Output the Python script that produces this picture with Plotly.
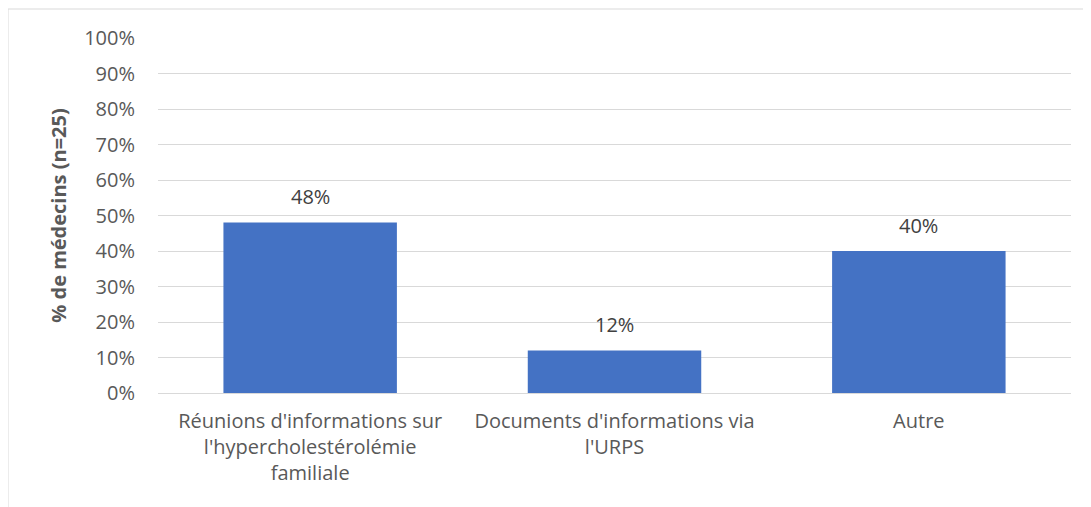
import plotly.graph_objects as go

categories = [
    "Réunions d'informations sur<br>l'hypercholestérolémie<br>familiale",
    "Documents d'informations via<br>l'URPS",
    "Autre",
]
values = [0.48, 0.12, 0.40]
value_labels = ["48%", "12%", "40%"]
y_title = "% de médecins (n=25)"

FONT = "Open Sans, Noto Sans, sans-serif"
GREY = "#595959"

# page body has an 8px margin: plot area in page = x 158-1071, y 38-393
fig = go.Figure(
    go.Bar(
        x=categories,
        y=values,
        marker=dict(color="#4472C4", line=dict(width=0)),
        width=0.57,
        hoverinfo="x+y",
    )
)

for c, v, t in zip(categories, values, value_labels):
    fig.add_annotation(
        x=c, y=v, text=t, showarrow=False,
        yanchor="middle", yshift=26,
        font=dict(family=FONT, size=20, color="#404040"),
    )

fig.update_layout(
    width=1091,
    height=507,
    margin=dict(l=150, r=28, t=30, b=122),
    paper_bgcolor="white",
    plot_bgcolor="white",
    showlegend=False,
    font=dict(family=FONT, size=20, color=GREY),
    xaxis=dict(
        showgrid=False,
        showline=True,
        linecolor="#D9D9D9",
        linewidth=1,
        ticks="",
        tickfont=dict(family=FONT, size=20, color=GREY),
        ticklabelstandoff=10,
    ),
    yaxis=dict(
        range=[0, 1],
        dtick=0.1,
        tickformat=".0%",
        showgrid=True,
        gridcolor="#D9D9D9",
        gridwidth=1,
        zeroline=False,
        showline=False,
        ticks="",
        ticklabelstandoff=22,
        tickfont=dict(family=FONT, size=20, color=GREY),
        title=dict(
            text="<b>" + y_title + "</b>",
            font=dict(family=FONT, size=20, color=GREY),
            standoff=12,
        ),
        automargin=False,
    ),
    shapes=[
        dict(
            type="rect",
            xref="paper",
            yref="paper",
            x0=-150 / 913,
            x1=1.2,
            y0=-0.6,
            y1=1 + 29 / 355,
            line=dict(color="#D9D9D9", width=1),
            fillcolor="rgba(0,0,0,0)",
            layer="below",
        )
    ],
)

fig.write_html("out.html")
